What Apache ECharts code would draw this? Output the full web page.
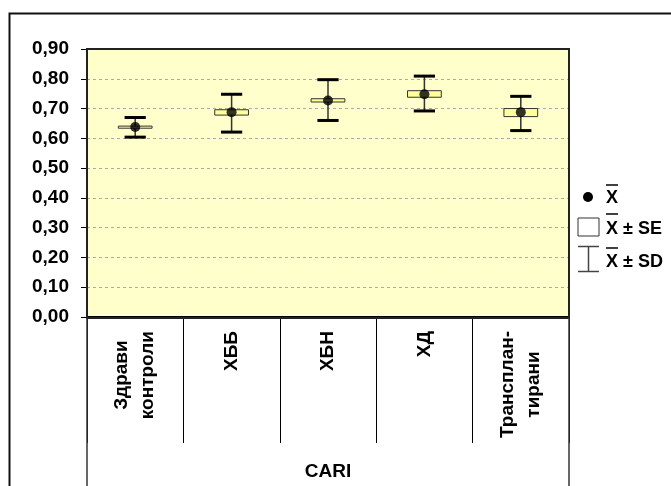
<!DOCTYPE html>
<html>
<head>
<meta charset="utf-8">
<script src="https://cdn.jsdelivr.net/npm/echarts@6/dist/echarts.min.js"></script>
<style>html,body{margin:0;padding:0;background:#fff}#c{width:671px;height:486px}</style>
</head>
<body>
<div id="c"></div>
<script>
const categories = ['Здрави\nконтроли', 'ХББ', 'ХБН', 'ХД', 'Трансплан-\nтирани'];
const meanVals = [0.638, 0.688, 0.727, 0.748, 0.688];
const seLow   = [0.634, 0.678, 0.722, 0.738, 0.673];
const seHigh  = [0.641, 0.696, 0.733, 0.760, 0.700];
const sdLow   = [0.604, 0.621, 0.660, 0.692, 0.626];
const sdHigh  = [0.670, 0.748, 0.797, 0.809, 0.741];
const yTicks  = ['0,00','0,10','0,20','0,30','0,40','0,50','0,60','0,70','0,80','0,90'];
const axisTitle = 'CARI';
const legendLabels = ['X', 'X ± SE', 'X ± SD'];

const FONT = '"Liberation Sans", Arial, sans-serif';
const FS = 19;
const G = {left: 87, right: 102, top: 49, bottom: 168};
const W = 671, H = 486;
const plotR = W - G.right, plotB = H - G.bottom;

const chart = echarts.init(document.getElementById('c'), null, {renderer: 'canvas'});

const boxData = categories.map((c, i) => [i, meanVals[i], seLow[i], seHigh[i], sdLow[i], sdHigh[i]]);

const legendText = (txt, x, y) => ({
  type: 'text', x: x, y: y, z: 100,
  style: {text: txt, font: 'bold 18px ' + FONT, fill: '#000', textVerticalAlign: 'middle', textAlign: 'left'}
});
const bar = (x, y) => ({type: 'line', z: 100, shape: {x1: x, y1: y, x2: x + 12, y2: y}, style: {stroke: '#000', lineWidth: 1.5}});

const option = {
  animation: false,
  backgroundColor: '#fff',
  grid: {left: G.left, right: G.right, top: G.top, bottom: G.bottom, show: true, backgroundColor: '#ffffcc', borderWidth: 0},
  xAxis: {
    type: 'category', data: categories, boundaryGap: true,
    name: axisTitle, nameLocation: 'middle', nameGap: 145,
    nameTextStyle: {fontFamily: FONT, fontWeight: 'bold', fontSize: FS, color: '#000'},
    axisLine: {show: true, lineStyle: {color: '#000', width: 2}},
    axisTick: {show: true, interval: 0, length: 126, lineStyle: {color: '#000', width: 1}},
    axisLabel: {
      interval: 0, rotate: 90, margin: 14,
      formatter: v => v.split('\n').map(s => '{c|' + s + '}').join('\n'),
      rich: {c: {align: 'center', fontFamily: FONT, fontWeight: 'bold', fontSize: FS, lineHeight: 26, color: '#000'}}
    }
  },
  yAxis: {
    type: 'value', min: 0, max: 0.9, interval: 0.1,
    axisLine: {show: true, lineStyle: {color: '#000', width: 1.5}},
    axisTick: {show: true, inside: false, length: 6, lineStyle: {color: '#000', width: 1}},
    axisLabel: {
      margin: 18, fontFamily: FONT, fontWeight: 'bold', fontSize: FS, color: '#000',
      formatter: v => yTicks[Math.round(v * 10)]
    },
    splitLine: {show: true, lineStyle: {color: '#aaa', type: [3, 3], width: 1}}
  },
  series: [
    {
      type: 'custom',
      data: boxData,
      encode: {x: 0, y: 1},
      z: 3,
      renderItem: function (params, api) {
        const i = api.value(0);
        const m = api.coord([i, api.value(1)]);
        const sl = api.coord([i, api.value(2)]);
        const sh = api.coord([i, api.value(3)]);
        const dl = api.coord([i, api.value(4)]);
        const dh = api.coord([i, api.value(5)]);
        const bw = api.size([1, 0])[0];
        const boxW = bw * 0.35, capW = bw * 0.22;
        const x = m[0];
        return {
          type: 'group',
          children: [
            {type: 'line', shape: {x1: x, y1: dh[1], x2: x, y2: dl[1]}, style: {stroke: '#333', lineWidth: 1.5}},
            {type: 'rect', shape: {x: x - boxW / 2, y: sh[1], width: boxW, height: sl[1] - sh[1]}, style: {fill: '#ffff99', stroke: '#333', lineWidth: 1}},
            {type: 'line', shape: {x1: x - capW / 2, y1: dh[1], x2: x + capW / 2, y2: dh[1]}, style: {stroke: '#000', lineWidth: 3}},
            {type: 'line', shape: {x1: x - capW / 2, y1: dl[1], x2: x + capW / 2, y2: dl[1]}, style: {stroke: '#000', lineWidth: 3}}
          ]
        };
      }
    },
    {
      type: 'scatter', data: meanVals, symbol: 'circle', symbolSize: 10, z: 5,
      itemStyle: {color: '#000', borderWidth: 0}
    }
  ],
  graphic: [
    {type: 'rect', z: 100, shape: {x: G.left, y: G.top, width: plotR - G.left, height: plotB - G.top}, style: {fill: null, stroke: '#222', lineWidth: 2}},
    {type: 'line', z: 100, shape: {x1: G.left, y1: plotB, x2: G.left, y2: H}, style: {stroke: '#333', lineWidth: 1.5}},
    {type: 'line', z: 100, shape: {x1: plotR, y1: plotB, x2: plotR, y2: H}, style: {stroke: '#333', lineWidth: 1.5}},
    {type: 'rect', z: 100, shape: {x: 9.5, y: 13.5, width: 700, height: 500}, style: {fill: null, stroke: '#111', lineWidth: 2}},
    // legend
    {type: 'circle', z: 100, shape: {cx: 588, cy: 197, r: 5}, style: {fill: '#000'}},
    legendText(legendLabels[0], 606, 198), bar(606, 185),
    {type: 'rect', z: 100, shape: {x: 578, y: 218, width: 21, height: 18}, style: {fill: '#fff', stroke: '#333', lineWidth: 1}},
    legendText(legendLabels[1], 606, 229), bar(606, 214),
    {type: 'line', z: 100, shape: {x1: 578, y1: 246.5, x2: 599, y2: 246.5}, style: {stroke: '#444', lineWidth: 1.5}},
    {type: 'line', z: 100, shape: {x1: 588.5, y1: 246.5, x2: 588.5, y2: 271.5}, style: {stroke: '#444', lineWidth: 1.5}},
    {type: 'line', z: 100, shape: {x1: 578, y1: 271.5, x2: 599, y2: 271.5}, style: {stroke: '#444', lineWidth: 1.5}},
    legendText(legendLabels[2], 606, 262), bar(606, 248)
  ]
};
chart.setOption(option);
</script>
</body>
</html>
